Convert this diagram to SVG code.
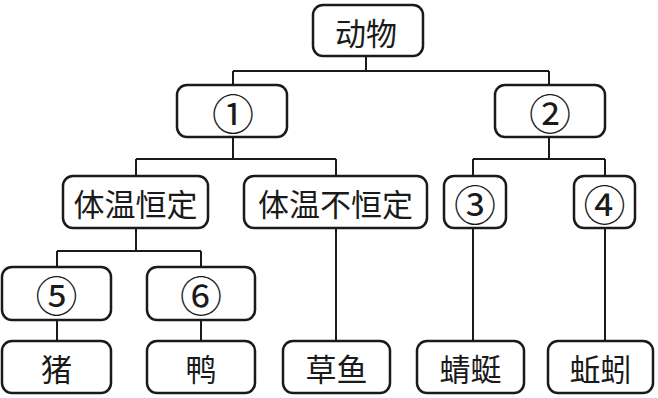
<svg xmlns="http://www.w3.org/2000/svg" width="658" height="398" viewBox="0 0 658 398">
<style>
.box{fill:#fff;stroke:#1a1a1a;stroke-width:2.5}
.t{font-family:"Noto Sans CJK SC","Noto Sans",sans-serif;font-size:31px;fill:#1a1a1a;text-anchor:middle;dominant-baseline:central}
.n{font-size:42px}
.c{fill:none;stroke:#1a1a1a;stroke-width:2}
</style>
<rect width="658" height="398" fill="#fff"/>
<g id="connectors" class="c">
<path d="M366,56V71M233,71H549M233,71V85M549,71V85"/>
<path d="M233,137V159M136,159H336M136,159V176M336,159V176"/>
<path d="M549,137V159M473,159H605M473,159V176M605,159V176"/>
<path d="M136,228V251M57,251H201M57,251V267M201,251V267"/>
<path d="M57,320V341M201,320V341"/>
<path d="M336,228V341M473,228V341M605,228V341"/>
</g>
<g id="n-dongwu"><rect class="box" x="313" y="5" width="110" height="51" rx="10"/><text class="t" x="366" y="31">动物</text></g>
<g id="n-1"><rect class="box" x="177" y="85" width="110" height="52" rx="10"/><text class="t n" x="233" y="111">①</text></g>
<g id="n-2"><rect class="box" x="495" y="85" width="110" height="52" rx="10"/><text class="t n" x="550" y="111">②</text></g>
<g id="n-hengding"><rect class="box" x="63" y="176" width="145" height="52" rx="10"/><text class="t" x="135.5" y="202">体温恒定</text></g>
<g id="n-buhengding"><rect class="box" x="244" y="176" width="183" height="52" rx="10"/><text class="t" x="335.5" y="202">体温不恒定</text></g>
<g id="n-3"><rect class="box" x="444" y="176" width="62" height="52" rx="10"/><text class="t n" x="475" y="202">③</text></g>
<g id="n-4"><rect class="box" x="574" y="176" width="61" height="52" rx="10"/><text class="t n" x="604.5" y="202">④</text></g>
<g id="n-5"><rect class="box" x="2" y="267" width="109" height="53" rx="10"/><text class="t n" x="56.5" y="293.5">⑤</text></g>
<g id="n-6"><rect class="box" x="147" y="267" width="108" height="53" rx="10"/><text class="t n" x="201" y="293.5">⑥</text></g>
<g id="n-zhu"><rect class="box" x="2" y="341" width="109" height="52" rx="10"/><text class="t" x="56.5" y="367">猪</text></g>
<g id="n-ya"><rect class="box" x="147" y="341" width="108" height="52" rx="10"/><text class="t" x="201" y="367">鸭</text></g>
<g id="n-caoyu"><rect class="box" x="283" y="341" width="107" height="52" rx="10"/><text class="t" x="336.5" y="367">草鱼</text></g>
<g id="n-qingting"><rect class="box" x="417" y="341" width="107" height="52" rx="10"/><text class="t" x="470.5" y="367">蜻蜓</text></g>
<g id="n-qiuyin"><rect class="box" x="548" y="341" width="105" height="52" rx="10"/><text class="t" x="600.5" y="367">蚯蚓</text></g>
</svg>
